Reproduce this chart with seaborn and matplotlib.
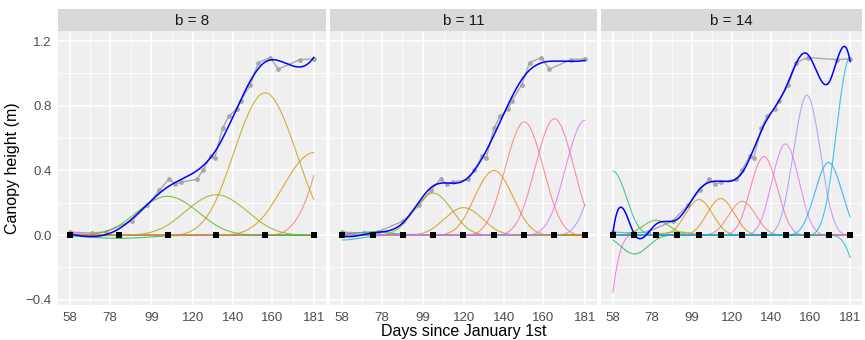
import numpy as np
import pandas as pd
import matplotlib
matplotlib.use("Agg")
import matplotlib.pyplot as plt
import seaborn as sns

# ==========================================
# data
# ==========================================
days = [58, 69, 76, 89, 97, 103, 108, 111, 114, 122, 125, 129, 131, 135, 138, 142, 144, 149, 153, 159, 163, 174, 181]
height = [0.018, 0.013, 0.02, 0.088, 0.185, 0.277, 0.349, 0.314, 0.328, 0.345, 0.402, 0.49, 0.478, 0.663, 0.734,
          0.78, 0.83, 0.93, 1.067, 1.098, 1.026, 1.085, 1.09]
dropped_b14 = [163]  # this point is not drawn in the b = 14 panel

panel_b = [8, 11, 14]
knots = {
    8: [58, 82.6, 107.2, 131.8, 156.4, 181],
    11: [58, 73.4, 88.8, 104.1, 119.5, 134.9, 150.3, 165.6, 181],
    14: [58, 69.2, 80.4, 91.5, 102.7, 113.9, 125.1, 136.3, 147.5, 158.6, 169.8, 181],
}
# height of each scaled basis curve at its own centre
peaks = {
    8: [0.07, -0.005, -0.02, 0.24, 0.25, 0.88, 0.51, 1.48],
    11: [0.08, -0.03, 0.02, 0.005, 0.26, 0.17, 0.40, 0.70, 0.72, 0.71, 0.76],
    14: [-1.42, 0.396, -0.117, 0.092, 0.02, 0.22, 0.226, 0.209, 0.486, 0.564, 0.865, 0.449, 1.10, -0.56],
}

x_ticks = [58, 78, 99, 120, 140, 160, 181]
y_ticks = [-0.4, 0.0, 0.4, 0.8, 1.2]


def hcl_hex(h, c=100, l=65):
    # R-style polarLUV -> sRGB
    Xn, Yn, Zn = 95.047, 100.0, 108.883
    U = c * np.cos(np.deg2rad(h))
    V = c * np.sin(np.deg2rad(h))
    Y = Yn * ((l + 16) / 116) ** 3
    den = Xn + 15 * Yn + 3 * Zn
    u = U / (13 * l) + 4 * Xn / den
    v = V / (13 * l) + 9 * Yn / den
    X = 9 * Y * u / (4 * v)
    Z = Y * (12 - 3 * u - 20 * v) / (4 * v)
    M = np.array([[3.2404542, -1.5371385, -0.4985314],
                  [-0.9692660, 1.8760108, 0.0415560],
                  [0.0556434, -0.2040259, 1.0572252]])
    rgb = M @ (np.array([X, Y, Z]) / 100)
    rgb = np.where(rgb > 0.0031308, 1.055 * np.abs(rgb) ** (1 / 2.4) - 0.055, 12.92 * rgb)
    rgb = np.clip(rgb, 0, 1)
    return "#%02x%02x%02x" % tuple(int(round(v * 255)) for v in rgb)


# basis names sorted as text, colour wheel running backwards (as in the figure)
levels = sorted([str(i) for i in range(1, 15)])
palette = {lev: hcl_hex((15 + 360 * (12 - k) / 14) % 360) for k, lev in enumerate(levels)}


def cubic_bump(x, centre, h):
    t = np.abs((x - centre) / h)
    out = np.where(t < 1, 2 / 3 - t ** 2 + t ** 3 / 2, np.where(t < 2, (2 - t) ** 3 / 6, 0.0))
    return out / (2 / 3)


# ==========================================
# figure
# ==========================================
sns.set_theme(style="darkgrid", rc={"axes.facecolor": "#EFEFEF", "grid.color": "white"})
plt.rcParams["font.family"] = ["Liberation Sans", "DejaVu Sans"]

W, H = 865, 340
fig = plt.figure(figsize=(W / 100, H / 100), dpi=100)
fig.patch.set_facecolor("white")

panels_px = [(58, 326), (330, 597), (601, 862)]
top, bottom, strip_top = 31, 305, 9
x_grid = np.linspace(58, 181, 500)

for i, b in enumerate(panel_b):
    x0, x1 = panels_px[i]
    ax = fig.add_axes([x0 / W, 1 - bottom / H, (x1 - x0) / W, (bottom - top) / H])

    kn = knots[b]
    h = kn[1] - kn[0]
    centres = [kn[0] - h] + kn + [kn[-1] + h]

    rows = []
    total = np.zeros_like(x_grid)
    for j, (cen, pk) in enumerate(zip(centres, peaks[b])):
        yv = pk * cubic_bump(x_grid, cen, h)
        total += yv
        rows.append(pd.DataFrame({"day": x_grid, "value": yv, "basis": str(j + 1)}))
    basis_df = pd.concat(rows, ignore_index=True)

    obs = pd.DataFrame({"day": days, "height": height})
    if b == 14:
        obs = obs[~obs["day"].isin(dropped_b14)]

    sns.lineplot(data=obs, x="day", y="height", color="#A8A8A8", lw=1.0, ax=ax, zorder=2)
    sns.scatterplot(data=obs, x="day", y="height", color="#A8A8A8", s=12, linewidth=0, ax=ax, zorder=2)
    sns.lineplot(data=basis_df, x="day", y="value", hue="basis", palette=palette, legend=False,
                 lw=0.8, alpha=0.75, estimator=None, ax=ax, zorder=3)
    sns.lineplot(x=x_grid, y=total, color="blue", lw=1.1, ax=ax, zorder=4)
    sns.scatterplot(x=kn, y=np.zeros(len(kn)), marker="s", color="black", s=22, linewidth=0,
                    ax=ax, zorder=5)

    ax.set_xlim(51.85, 187.15)
    ax.set_ylim(-0.432, 1.262)
    ax.set_xticks(x_ticks)
    ax.set_xticks([(a + c) / 2 for a, c in zip(x_ticks[:-1], x_ticks[1:])], minor=True)
    ax.set_yticks(y_ticks)
    ax.set_yticks([-0.2, 0.2, 0.6, 1.0], minor=True)
    ax.grid(which="major", color="white", lw=1.1)
    ax.grid(which="minor", color="white", lw=0.55)
    for s in ax.spines.values():
        s.set_visible(False)
    ax.tick_params(which="major", length=2.7, width=0.6, color="#333333", labelsize=9.5,
                   labelcolor="#4D4D4D", pad=2)
    ax.tick_params(which="minor", length=0)
    ax.set_xlabel("")
    ax.set_ylabel("")
    if i == 0:
        ax.set_yticklabels(["\u22120.4", "0.0", "0.4", "0.8", "1.2"])
        ax.set_ylabel("Canopy height (m)", fontsize=11.5, color="black", labelpad=4)
    else:
        ax.set_yticklabels([])
        ax.tick_params(axis="y", which="major", length=0)
    if i == 1:
        ax.set_xlabel("Days since January 1st", fontsize=11.5, color="black", labelpad=0)

    sax = fig.add_axes([x0 / W, 1 - top / H, (x1 - x0) / W, (top - strip_top) / H])
    sax.set_facecolor("#D9D9D9")
    sax.set_xticks([])
    sax.set_yticks([])
    for s in sax.spines.values():
        s.set_visible(False)
    sax.text(0.5, 0.45, f"b = {b}", ha="center", va="center", fontsize=11, color="#1A1A1A",
             transform=sax.transAxes)

fig.savefig("out.png", dpi=100, facecolor="white")
